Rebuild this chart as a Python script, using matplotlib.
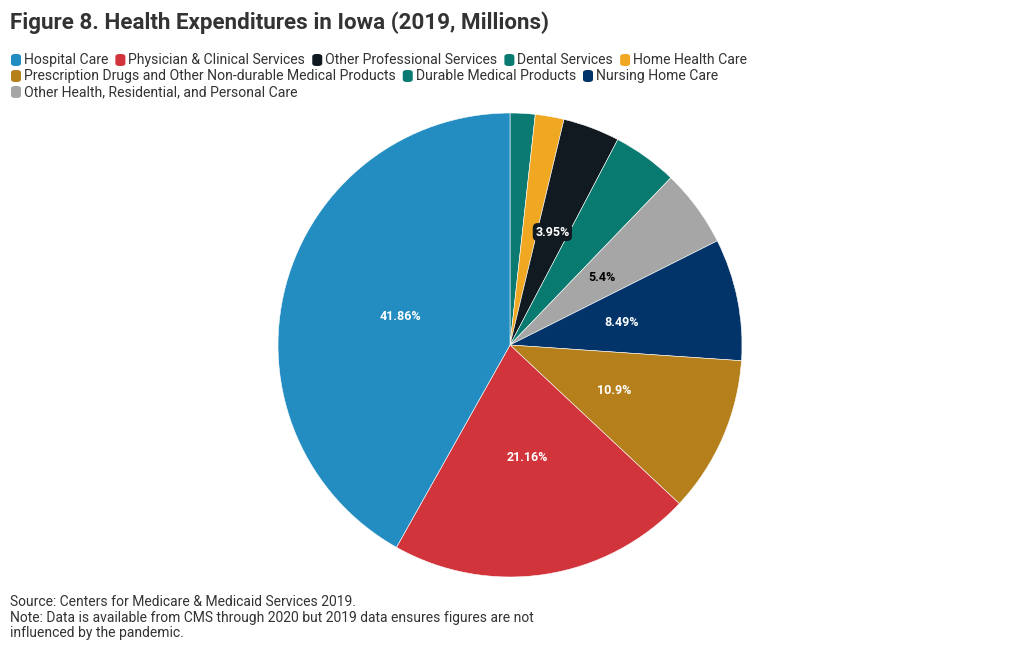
import numpy as np
import matplotlib
matplotlib.use('Agg')
import matplotlib.pyplot as plt
from matplotlib.patches import FancyBboxPatch

plt.rcParams['font.family'] = ['Roboto', 'DejaVu Sans']

# data, in pie order (clockwise from 12 o'clock)
categories = ["Durable Medical Products", "Home Health Care", "Other Professional Services",
              "Dental Services", "Other Health, Residential, and Personal Care",
              "Nursing Home Care", "Prescription Drugs and Other Non-durable Medical Products",
              "Physician & Clinical Services", "Hospital Care"]
shares = [1.74, 2.0, 3.95, 4.5, 5.4, 8.49, 10.9, 21.16, 41.86]
colors = ["#0a7a72", "#f0a823", "#121a21", "#087a6f", "#a6a6a6",
          "#033469", "#b57f1b", "#d1343a", "#238dc1"]
shown_labels = ["", "", "3.95%", "", "5.4%", "8.49%", "10.9%", "21.16%", "41.86%"]

# legend order as in the reference
legend_order = ["Hospital Care", "Physician & Clinical Services", "Other Professional Services",
                "Dental Services", "Home Health Care",
                "Prescription Drugs and Other Non-durable Medical Products",
                "Durable Medical Products", "Nursing Home Care",
                "Other Health, Residential, and Personal Care"]

W, H = 1020, 650
fig = plt.figure(figsize=(W / 100, H / 100), dpi=100)

# pie
cx, cy, r = 510, 345, 232
ax = fig.add_axes([(cx - r) / W, (H - cy - r) / H, 2 * r / W, 2 * r / H])
wedges, _ = ax.pie(shares, colors=colors, startangle=90, counterclock=False,
                   radius=1, wedgeprops=dict(edgecolor='white', linewidth=0.4))
ax.set_xlim(-1, 1)
ax.set_ylim(-1, 1)
ax.set_aspect('equal')

for w, lab in zip(wedges, shown_labels):
    if not lab:
        continue
    ang = np.deg2rad((w.theta1 + w.theta2) / 2)
    dist = 0.52 if lab == "3.95%" else 0.49
    x, y = dist * np.cos(ang), dist * np.sin(ang)
    col = 'black' if lab == "5.4%" else 'white'
    bbox = None
    if lab == "3.95%":
        bbox = dict(boxstyle='round,pad=0.2,rounding_size=0.4', fc='#121a21', ec='none')
    ax.text(x, y, lab, ha='center', va='center', fontsize=9, fontweight='bold',
            color=col, bbox=bbox)

# title
fig.text(10 / W, 1 - 23 / H, "Figure 8. Health Expenditures in Iowa (2019, Millions)",
         fontsize=16.1, fontweight='bold', color='#333333', va='center', ha='left')

# legend, flowed left to right
fig.canvas.draw()
renderer = fig.canvas.get_renderer()
x0, xpos, row_y = 10, 10, 60
max_x = 770
color_of = dict(zip(categories, colors))
for name in legend_order:
    t = fig.text(0, 0, name, fontsize=10.1, color='#333333', va='center', ha='left')
    tw = t.get_window_extent(renderer).width
    item_w = 14 + tw + 6
    if xpos + item_w > max_x and xpos > x0:
        xpos = x0
        row_y += 16
    box = FancyBboxPatch(((xpos + 1) / W, 1 - (row_y + 6) / H), 10 / W, 12 / H,
                         boxstyle='round,pad=0,rounding_size=0.004',
                         transform=fig.transFigure, fc=color_of[name], ec='none')
    fig.add_artist(box)
    t.set_position(((xpos + 14) / W, 1 - row_y / H))
    xpos += item_w

# footnote
note = ("Source: Centers for Medicare & Medicaid Services 2019.\n"
        "Note: Data is available from CMS through 2020 but 2019 data ensures figures are not\n"
        "influenced by the pandemic.")
fig.text(10 / W, 1 - 595 / H, note, fontsize=10, color='#333333', va='top', ha='left',
         linespacing=1.15)

fig.savefig('out.png', dpi=100)
